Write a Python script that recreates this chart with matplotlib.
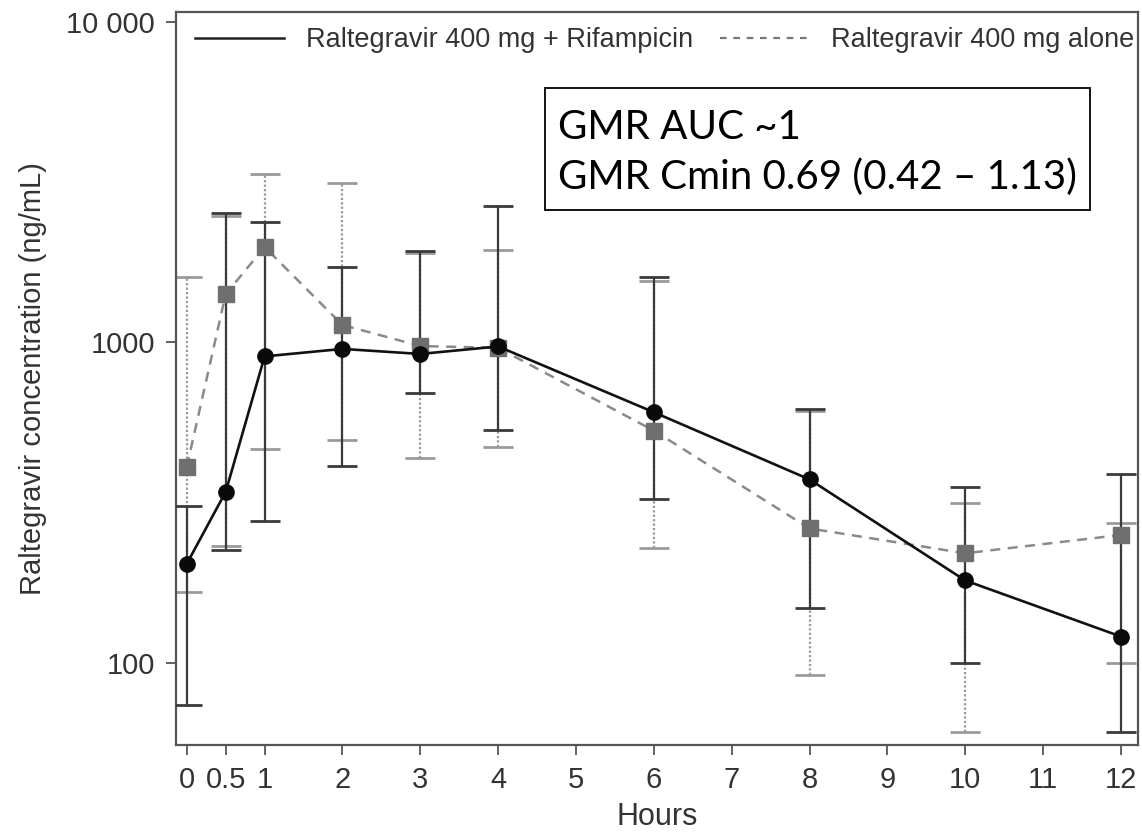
import matplotlib
matplotlib.use('Agg')
import matplotlib.pyplot as plt
from matplotlib.lines import Line2D
from matplotlib.patches import Rectangle
import numpy as np

plt.rcParams['font.family'] = ['Liberation Sans', 'DejaVu Sans']

# sampling times (h)
hours = [0, 0.5, 1, 2, 3, 4, 6, 8, 10, 12]

# raltegravir 400 mg + rifampicin
rif_mean = [204, 342, 905, 955, 921, 972, 606, 374, 181, 121]
rif_upper = [310, 2540, 2370, 1718, 1930, 2660, 1600, 620, 355, 389]
rif_lower = [74, 226, 278, 411, 695, 535, 326, 148, 100, 61]

# raltegravir 400 mg alone
alone_mean = [409, 1416, 1985, 1134, 975, 962, 531, 263, 220, 251]
alone_upper = [1600, 2480, 3350, 3140, 1900, 1937, 1550, 610, 315, 273]
alone_lower = [167, 232, 464, 497, 435, 472, 229, 92, 61, 100]

xticks = [0, 0.5, 1, 2, 3, 4, 5, 6, 7, 8, 9, 10, 11, 12]
xticklabels = ['0', '0.5', '1', '2', '3', '4', '5', '6', '7', '8', '9', '10', '11', '12']
yticks = [100, 1000, 10000]
yticklabels = ['100', '1000', '10 000']

legend_labels = ['Raltegravir 400 mg + Rifampicin', 'Raltegravir 400 mg alone']
box_lines = ['GMR AUC ~1', 'GMR Cmin 0.69 (0.42 \u2013 1.13)']

fig = plt.figure(figsize=(11.42, 8.39), dpi=100)
ax = fig.add_axes([0.154, 0.112, 0.8425, 0.8737])

frame_col = '#555555'
text_col = '#333333'


def err(mean, lo, hi):
    m = np.array(mean, dtype=float)
    return [m - np.array(lo), np.array(hi) - m]


# error bars: dotted grey for "alone", solid dark for rifampicin
eb = ax.errorbar(hours, alone_mean, yerr=err(alone_mean, alone_lower, alone_upper),
                 fmt='none', ecolor='#9a9a9a', elinewidth=1.6, capsize=11, capthick=2, zorder=2)
for lc in eb[2]:
    lc.set_linestyle((0, (1, 1)))
eb2 = ax.errorbar(hours, rif_mean, yerr=err(rif_mean, rif_lower, rif_upper),
                  fmt='none', ecolor='#3a3a3a', elinewidth=1.6, capsize=11, capthick=2, zorder=3)

ax.plot(hours, alone_mean, color='#8a8a8a', lw=1.8, ls=(0, (4, 3)),
        marker='s', ms=11, mfc='#6f6f6f', mec='#6f6f6f', zorder=4)
ax.plot(hours, rif_mean, color='#111111', lw=1.9, ls='-',
        marker='o', ms=11, mfc='#0a0a0a', mec='#0a0a0a', zorder=5)

ax.set_yscale('log')
ax.set_xlim(-0.14, 12.22)
ax.set_ylim(55.5, 10740)
ax.set_xticks(xticks)
ax.set_xticklabels(xticklabels)
ax.set_yticks(yticks)
ax.set_yticklabels(yticklabels)
ax.yaxis.set_minor_locator(matplotlib.ticker.NullLocator())
ax.tick_params(axis='both', direction='out', length=7, width=1.3, color=frame_col,
               labelsize=21, labelcolor=text_col, pad=8)
for s in ax.spines.values():
    s.set_color(frame_col)
    s.set_linewidth(1.6)

ax.set_xlabel('Hours', fontsize=22, color=text_col, labelpad=6)
ax.set_ylabel('Raltegravir concentration (ng/mL)', fontsize=21, color=text_col, labelpad=14)

handles = [Line2D([], [], color='#222222', lw=1.8),
           Line2D([], [], color='#777777', lw=1.6, ls=(0, (3, 3)))]
ax.legend(handles, legend_labels, loc='upper left', bbox_to_anchor=(0.0, 1.005), ncol=2,
          frameon=False, fontsize=19.5, handlelength=3.3, handletextpad=0.8,
          columnspacing=1.0, labelcolor=text_col, borderaxespad=0.3)

# text box with the geometric mean ratios
fig.patches.append(Rectangle((545 / 1142, 1 - 210 / 839), 545 / 1142, 122 / 839,
                             transform=fig.transFigure, fill=False, ec='black', lw=1.3))
fig.text(558 / 1142, 1 - 139 / 839, box_lines[0], fontsize=29, family=['Lato', 'DejaVu Sans'],
         color='black', va='baseline')
fig.text(558 / 1142, 1 - 189 / 839, box_lines[1], fontsize=29, family=['Lato', 'DejaVu Sans'],
         color='black', va='baseline')

fig.savefig('out.png', dpi=100)
